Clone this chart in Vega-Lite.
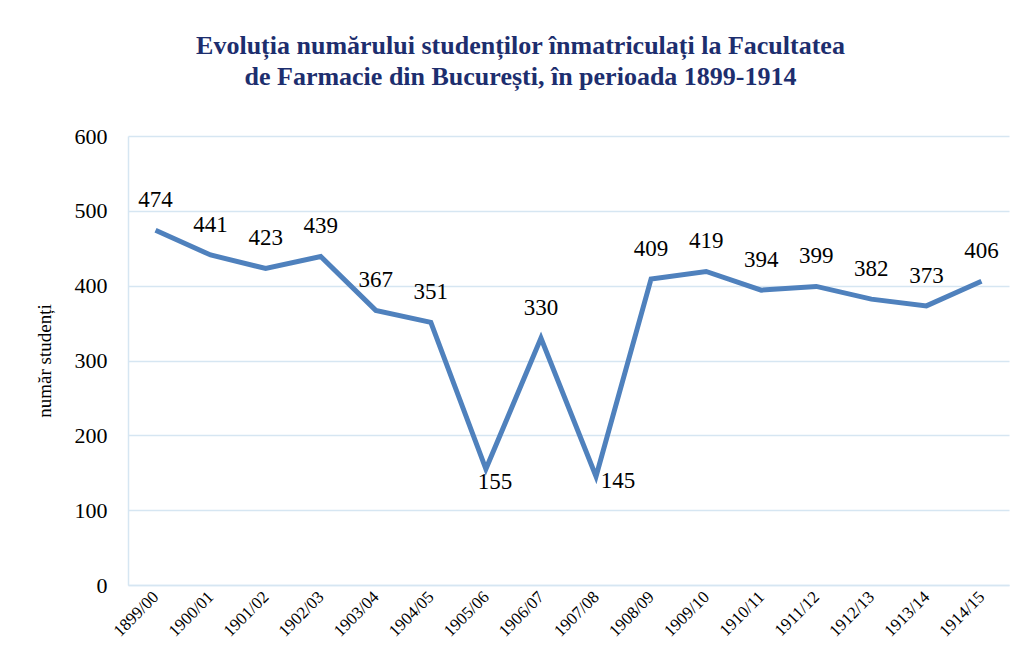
{
  "$schema": "https://vega.github.io/schema/vega-lite/v6.json",
  "width": 881,
  "height": 449,
  "autosize": "none",
  "padding": {"left": 128, "top": 136, "right": 13, "bottom": 81},
  "background": "white",
  "title": {
    "text": ["Evoluția numărului studenților înmatriculați la Facultatea", "de Farmacie din București, în perioada 1899-1914"],
    "font": "'Liberation Serif', 'Times New Roman', serif",
    "fontSize": 26,
    "fontWeight": "bold",
    "color": "#1d2e6e",
    "lineHeight": 31,
    "anchor": "middle",
    "dx": -48,
    "offset": 35
  },
  "data": {
    "values": [
      {"an": "1899/00", "n": 474},
      {"an": "1900/01", "n": 441},
      {"an": "1901/02", "n": 423},
      {"an": "1902/03", "n": 439},
      {"an": "1903/04", "n": 367},
      {"an": "1904/05", "n": 351},
      {"an": "1905/06", "n": 155},
      {"an": "1906/07", "n": 330},
      {"an": "1907/08", "n": 145},
      {"an": "1908/09", "n": 409},
      {"an": "1909/10", "n": 419},
      {"an": "1910/11", "n": 394},
      {"an": "1911/12", "n": 399},
      {"an": "1912/13", "n": 382},
      {"an": "1913/14", "n": 373},
      {"an": "1914/15", "n": 406}
    ]
  },
  "encoding": {
    "x": {
      "field": "an",
      "type": "ordinal",
      "sort": null,
      "scale": {"type": "point", "padding": 0.5},
      "axis": {
        "title": null,
        "labelAngle": -45,
        "labelAlign": "right",
        "labelBaseline": "middle",
        "labelFont": "'Liberation Serif', 'Times New Roman', serif",
        "labelFontSize": 17,
        "labelColor": "black",
        "labelPadding": 9,
        "ticks": false,
        "domain": true,
        "domainColor": "#d6e6f2",
        "domainWidth": 1.5,
        "grid": false
      }
    },
    "y": {
      "field": "n",
      "type": "quantitative",
      "scale": {"domain": [0, 600], "nice": false},
      "axis": {
        "title": "număr studenți",
        "titleFont": "'Liberation Serif', 'Times New Roman', serif",
        "titleFontSize": 19,
        "titleFontWeight": "normal",
        "titleColor": "black",
        "titlePadding": 20,
        "values": [0, 100, 200, 300, 400, 500, 600],
        "labelFont": "'Liberation Serif', 'Times New Roman', serif",
        "labelFontSize": 22,
        "labelColor": "black",
        "labelPadding": 21,
        "ticks": false,
        "domain": true,
        "domainColor": "#d6e6f2",
        "domainWidth": 1.5,
        "grid": true,
        "gridColor": "#d6e6f2",
        "gridWidth": 1.5
      }
    }
  },
  "layer": [
    {
      "mark": {"type": "line", "color": "#4f81bd", "strokeWidth": 5, "strokeJoin": "miter", "strokeCap": "butt"}
    },
    {
      "transform": [{"filter": "datum.n >= 200"}],
      "mark": {"type": "text", "font": "'Liberation Serif', 'Times New Roman', serif", "fontSize": 23, "color": "black", "dy": -30, "baseline": "middle"},
      "encoding": {"text": {"field": "n", "type": "quantitative"}}
    },
    {
      "transform": [{"filter": "datum.an == '1905/06'"}],
      "mark": {"type": "text", "font": "'Liberation Serif', 'Times New Roman', serif", "fontSize": 23, "color": "black", "dx": 9, "dy": 13, "baseline": "middle"},
      "encoding": {"text": {"field": "n", "type": "quantitative"}}
    },
    {
      "transform": [{"filter": "datum.an == '1907/08'"}],
      "mark": {"type": "text", "font": "'Liberation Serif', 'Times New Roman', serif", "fontSize": 23, "color": "black", "dx": 22, "dy": 5, "baseline": "middle"},
      "encoding": {"text": {"field": "n", "type": "quantitative"}}
    }
  ],
  "config": {"view": {"stroke": null}}
}
